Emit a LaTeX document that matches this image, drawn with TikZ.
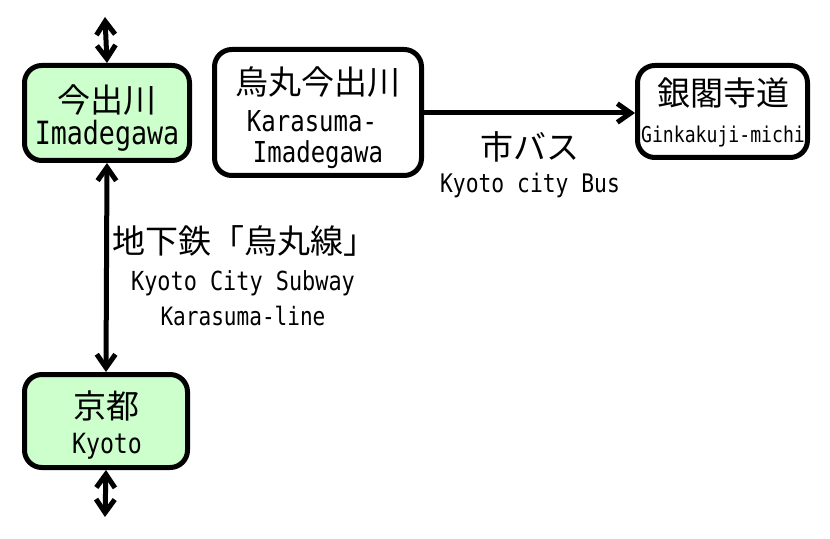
\documentclass[tikz,border=0pt]{standalone}
\usepackage{fontspec}
\setmainfont{Noto Sans CJK JP}
\newfontfamily\latfont{DejaVu Sans Mono}
\usetikzlibrary{arrows.meta}
\newcommand{\tall}[1]{\scalebox{1}[1.2]{#1}}

\begin{document}
\begin{tikzpicture}[x=0.75pt,y=-0.75pt,
    station/.style={draw, line width=3.75pt, rounded corners=13pt, inner sep=0pt},
    local/.style={station, fill=green!20},
    jp/.style={anchor=base, inner sep=0pt, font=\fontsize{24.75}{26}\selectfont},
    en/.style={anchor=base, inner sep=0pt, font=\latfont\fontsize{#1}{#1}\selectfont},
    barb/.tip={Straight Barb[length=10pt,width=14pt,line cap=butt,line join=miter]},
    link/.style={line width=3.75pt, {barb}-{barb}}]
    \useasboundingbox (0,0) rectangle (830,538);
    % Stations
    \node[local, minimum width=123.75pt, minimum height=71.25pt] (ima) at (107,113) {};
    \node[station, minimum width=155.25pt, minimum height=94.5pt] (kara) at (318,112.5) {};
    \node[station, minimum width=127.5pt, minimum height=69pt] (gin) at (722.5,111.5) {};
    \node[local, minimum width=122.25pt, minimum height=69.75pt] (kyo) at (106,421) {};
    % Station names
    \node[jp] (imajp) at (107,113) {今出川};
    \node[en=20] (imaen) at (107,145) {\tall{Imadegawa}};
    \node[jp] (karajp) at (318,95) {烏丸今出川};
    \node[en=18] (karaen) at (312,132) {\tall{Karasuma-}};
    \node[en=18] (karaen2) at (318,163) {\tall{Imadegawa}};
    \node[jp] (ginjp) at (723,106) {銀閣寺道};
    \node[en=13.6] (ginen) at (723,143) {\tall{Ginkakuji-michi}};
    \node[jp] (kyojp) at (106,418) {京都};
    \node[en=17.4] (kyoen) at (107,453) {\tall{Kyoto}};
    % Subway
    \coordinate (up) at (105,17);
    \coordinate (down) at (105,517);
    \draw[link] (up) -- (ima.north);
    \draw[link] (ima.south) -- (kyo.north);
    \draw[link] (kyo.south) -- (down);
    \node[jp] (subjp) at (244,253) {地下鉄「烏丸線」};
    \node[en=16.4] (suben) at (243,290) {\tall{Kyoto City Subway}};
    \node[en=15.8] (suben2) at (243,325) {\tall{Karasuma-line}};
    % Bus
    \draw[line width=3.75pt, -{barb}] (kara.east |- 0,113) -- (gin.west |- 0,113);
    \node[jp] (busjp) at (530,160) {市バス};
    \node[en=16] (busen) at (530,193) {\tall{Kyoto city Bus}};
\end{tikzpicture}
\end{document}
